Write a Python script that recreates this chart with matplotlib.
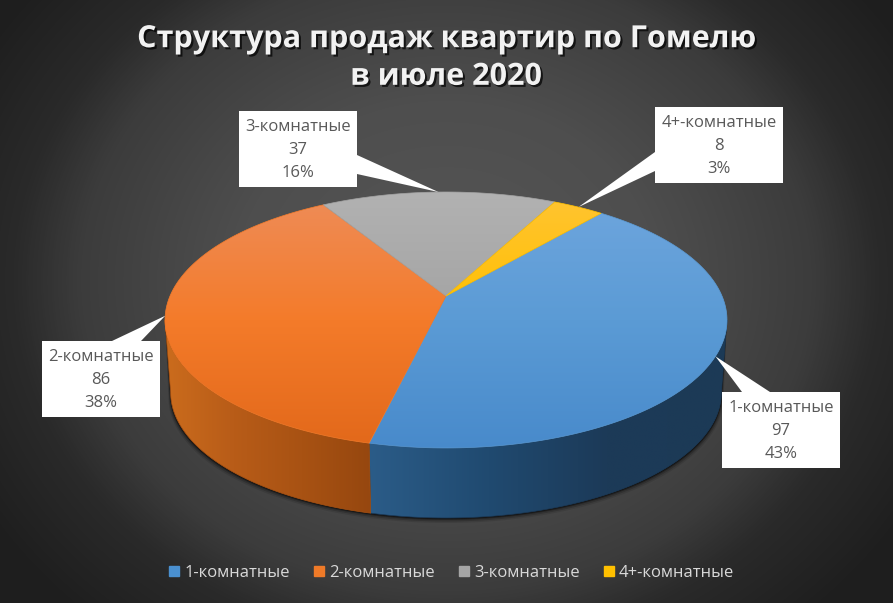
import numpy as np
import matplotlib
matplotlib.use('Agg')
import matplotlib.pyplot as plt
import matplotlib.patheffects as pe
from matplotlib.colors import LinearSegmentedColormap
from matplotlib.lines import Line2D
from matplotlib.patches import Polygon, Rectangle

# data
categories = ['1-комнатные', '2-комнатные', '3-комнатные', '4+-комнатные']
values = [97, 86, 37, 8]
shares = ['43%', '38%', '16%', '3%']
title = 'Структура продаж квартир по Гомелю\nв июле 2020'

# colours: top face gradient (top, middle, bottom of the pie)
top_colors = [
    ['#6fa6de', '#5b9bd5', '#488acb'],
    ['#ee8d5a', '#f47b2a', '#e2681a'],
    ['#b2b2b2', '#a3a3a3', '#8f8f8f'],
    ['#ffc433', '#ffc000', '#e5ad00'],
]
legend_colors = ['#4a90d0', '#ef7a28', '#a5a5a5', '#ffc000']
wall_colors = {0: ['#1c3a56', '#1c3a58', '#204a70', '#2b5c88'],
               1: ['#cb6c1d', '#b85c18', '#a85213', '#96470f']}

# label boxes: left, top, right, bottom and the base of the leader
boxes = [(722, 392, 840, 468), (42, 341, 160, 417), (239, 111, 357, 187), (655, 107, 783, 183)]
leaders = [((742, 392), (770, 392)), ((112, 341), (141, 341)),
           ((357, 155), (357, 174)), ((655, 152), (655, 171))]

# pie projection (slight perspective, Excel 3D pie)
CX, CY = 446, 296
KX, KY, C = 276, 123.5, 0.1875
START = 40
DEPTH, BOTTOM_SCALE = 73, 0.98


def rim(t, scale=1.0, dy=0.0):
    t = np.radians(t)
    u, v = np.sin(t), np.cos(t)
    w = 1 + C * v
    return np.column_stack([CX + scale * KX * u / w, CY + dy - scale * KY * v / w])


def gradient(ax, poly, colors, horizontal=False, zorder=2):
    xs, ys = poly[:, 0], poly[:, 1]
    cmap = LinearSegmentedColormap.from_list('g', colors)
    ramp = np.linspace(0, 1, 256)
    arr = ramp.reshape(1, -1) if horizontal else ramp.reshape(-1, 1)
    if horizontal:
        ext = (xs.min(), xs.max(), ys.max(), ys.min())
    else:
        # same vertical scale for all slices
        ext = (xs.min(), xs.max(), 450, 190)
    im = ax.imshow(arr, cmap=cmap, extent=ext, aspect='auto', origin='upper', zorder=zorder,
                   interpolation='bilinear')
    clip = Polygon(poly, closed=True, transform=ax.transData)
    im.set_clip_path(clip)
    # thin outline to soften the clipped edge
    ax.add_patch(Polygon(poly, closed=True, fill=False, edgecolor=colors[len(colors) // 2],
                         linewidth=0.5, zorder=zorder))


fig = plt.figure(figsize=(8.93, 6.03), dpi=100)
ax = fig.add_axes([0, 0, 1, 1])

# background
yy, xx = np.mgrid[0:603, 0:893]
r = np.sqrt(((xx - 446) / 470) ** 2 + ((yy - 280) / 400) ** 2)
bg_cmap = LinearSegmentedColormap.from_list('bg', [(0, '#565656'), (0.45 / 1.15, '#4e4e4e'), (0.78 / 1.15, '#3c3c3c'),
                                                   (0.92 / 1.15, '#2a2a2a'), (1, '#1e1e1e')])
ax.imshow(np.clip(r, 0, 1.15), cmap=bg_cmap, extent=(0, 893, 603, 0), aspect='auto', vmin=0, vmax=1.15, zorder=0)

angles = START + np.concatenate([[0], np.cumsum(values)]) * 360 / sum(values)
extreme = np.degrees(np.arccos(-C))

# shadow under the pie
t_front = np.linspace(extreme, 360 - extreme, 200)
for grow, alpha in [(5, 0.10), (3.5, 0.18), (2, 0.3), (1, 0.45)]:
    outer = rim(t_front, BOTTOM_SCALE, DEPTH + grow)
    outer[:, 0] = CX + (outer[:, 0] - CX) * (1 + grow / 600)
    inner = rim(t_front[::-1], 1.0, 0)
    ax.add_patch(Polygon(np.vstack([outer, inner]), closed=True, facecolor='black', edgecolor='none',
                         alpha=alpha, zorder=1))

# side walls
walls = {0: (extreme, angles[1]), 1: (angles[1], 360 - extreme)}
for i, (a, b) in walls.items():
    t = np.linspace(a, b, 120)
    poly = np.vstack([rim(t), rim(t[::-1], BOTTOM_SCALE, DEPTH)])
    colors = wall_colors[i][::-1] if i == 0 else wall_colors[i]
    gradient(ax, poly, colors, horizontal=True, zorder=2)

# top face
for i in range(len(values)):
    t = np.linspace(angles[i], angles[i + 1], 160)
    poly = np.vstack([[CX, CY], rim(t)])
    gradient(ax, poly, top_colors[i], zorder=3)

# labels with leaders
for i, (box, base) in enumerate(zip(boxes, leaders)):
    mid = (angles[i] + angles[i + 1]) / 2
    tip = rim(np.array([mid]))[0]
    ax.add_patch(Polygon([base[0], tip, base[1]], closed=True, facecolor='white', edgecolor='none', zorder=4))
    x0, y0, x1, y1 = box
    ax.add_patch(Rectangle((x0, y0), x1 - x0, y1 - y0, facecolor='white', edgecolor='none', zorder=4))
    ax.text((x0 + x1) / 2, (y0 + y1) / 2 + 1, f'{categories[i]}\n{values[i]}\n{shares[i]}', ha='center', va='center',
            fontsize=12, color='#595959', family='Open Sans', linespacing=1.55, zorder=5)

# title
ax.text(446, 58, title, ha='center', va='center', fontsize=22, fontweight='bold', color='#f2f2f2',
        family='Open Sans', linespacing=1.33, zorder=5,
        path_effects=[pe.withSimplePatchShadow(offset=(1.5, -1.5), shadow_rgbFace='black', alpha=0.7)])

ax.set_xlim(0, 893)
ax.set_ylim(603, 0)
ax.axis('off')

handles = [Line2D([], [], linestyle='none', marker='s', markersize=7.5, color=c) for c in legend_colors]
leg = ax.legend(handles, categories, loc='center', bbox_to_anchor=(450, 573), bbox_transform=ax.transData,
                ncol=4, frameon=False, labelcolor='#d9d9d9', handletextpad=0.1,
                columnspacing=1.25, handlelength=1.0, prop={'family': 'Open Sans', 'size': 12})
leg.set_zorder(6)

fig.savefig('out.png', dpi=100)
